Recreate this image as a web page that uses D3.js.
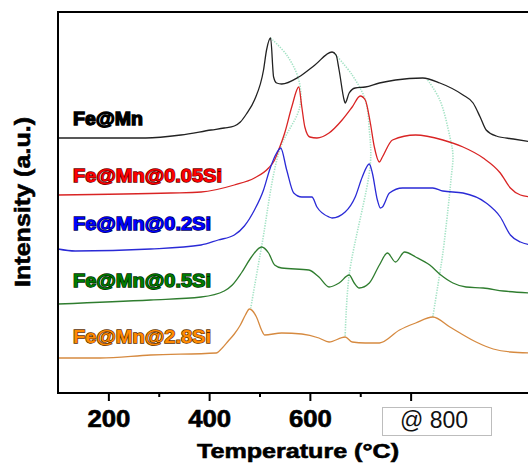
<!DOCTYPE html>
<html>
<head>
<meta charset="utf-8">
<script src="https://cdn.jsdelivr.net/npm/d3@7"></script>
<style>
    body{ margin:0; background:#fff; }
    svg{ display:block; }
</style>
</head>
<body>
<div id="chart"></div>
<script>
//Temperature (C) / intensity (a.u.) pairs
var feMn = [[100,255],[274,255],[344,258],[404,263],[430,265],[450,267],[462,271],[474,279],[490,293],[508,323],[514,343],[522,355],[528,316],[534,310],[544,309],[578,316],[610,328],[644,341],[652,338],[658,323],[668,293],[670,290],[678,300],[690,305],[710,306],[738,310],[770,313],[824,315],[858,310],[904,298],[924,290],[938,276],[950,263],[970,257],[1004,254],[1040,251]];
var feMn005 = [[100,198],[324,200],[384,201],[450,208],[490,215],[518,225],[530,233],[538,243],[550,260],[564,286],[578,306],[584,286],[590,266],[600,256],[614,255],[638,260],[664,273],[684,286],[700,297],[710,293],[720,270],[728,246],[738,231],[744,236],[764,253],[810,258],[864,253],[904,246],[944,235],[978,220],[998,205],[1018,198],[1040,196]];
var feMn02 = [[100,144],[134,142],[284,144],[384,148],[418,153],[450,158],[470,167],[490,183],[508,203],[520,223],[534,240],[542,245],[554,223],[568,200],[584,196],[604,196],[614,186],[638,176],[644,175],[670,181],[690,196],[704,216],[718,229],[724,220],[734,193],[740,185],[744,186],[758,200],[784,205],[844,205],[864,202],[904,200],[950,190],[978,176],[998,158],[1018,151],[1040,148]];
var feMn05 = [[100,89],[284,93],[384,96],[430,102],[446,108],[464,120],[484,136],[504,146],[518,140],[530,128],[544,125],[598,123],[618,116],[638,106],[658,110],[678,118],[688,110],[698,105],[718,110],[738,128],[754,140],[770,131],[788,141],[810,136],[838,128],[860,118],[884,110],[910,106],[944,105],[984,102],[1040,100]];
var feMn28 = [[100,35],[184,35],[284,38],[414,40],[426,45],[438,52],[450,59],[462,68],[472,78],[480,84],[494,76],[504,63],[510,58],[544,60],[584,59],[618,55],[638,51],[670,56],[684,51],[710,50],[738,50],[778,63],[810,70],[844,76],[878,66],[898,60],[930,51],[964,44],[998,41],[1040,40]];

//Dotted guides joining the peaks of the samples
var guideLow = [[522,355],[554,338],[578,313],[580,286],[540,243],[504,146],[482,83]];
var guideMid = [[648,340],[684,318],[710,293],[718,263],[720,229],[678,118],[670,56]];
var guideHigh = [[834,313],[858,293],[878,256],[884,238],[880,213],[874,183],[864,140],[858,120],[844,76]];

var seriesNames = ["Fe@Mn","Fe@Mn@0.05Si","Fe@Mn@0.2Si","Fe@Mn@0.5Si","Fe@Mn@2.8Si"];
var seriesData = [feMn, feMn005, feMn02, feMn05, feMn28];
var majorTicks = [200,400,600,800];
var minorTicks = [300,500,700];
var tickLabels = ["200","400","600"];
var boxLabel = "@ 800";

var lineColors = ["#222222","#d92424","#2a2ad6","#2f7d2f","#d68a40"];
var labelFill = ["#000000","#ff0000","#0000ff","#007a00","#ff8a00"];
var labelStroke = ["#000000","#6a0000","#000060","#002a00","#5e3000"];
var labelY = [125,182,230,287,343];
var labelLen = [70,149,138,138,138];

var width = 528, height = 465;
//plot edges in px ("top" is taken by window.top, hence the names)
var plotLeft = 58, plotTop = 12, plotBottom = 393;
var font = "'Liberation Sans', Arial, sans-serif";

var svg = d3.select("#chart")
    .append("svg")
    .attr("width", width)
    .attr("height", height);

var x = d3.scaleLinear().domain([100, 1033]).range([plotLeft, width]);
var y = d3.scaleLinear().domain([0, 381]).range([plotBottom, plotTop]);

var line = d3.line()
    .x(function(d){ return x(d[0]); })
    .y(function(d){ return y(d[1]); })
    .curve(d3.curveMonotoneX);

var guide = d3.line()
    .x(function(d){ return x(d[0]); })
    .y(function(d){ return y(d[1]); })
    .curve(d3.curveCatmullRom);

var plot = svg.append("g");

//Guides sit behind the curves
[guideLow, guideMid, guideHigh].forEach(function(g){
    plot.append("path")
        .attr("d", guide(g))
        .attr("fill","none")
        .attr("stroke","#a3e2c4")
        .attr("stroke-width",1.6)
        .attr("stroke-dasharray","1.3,1.3");
});

seriesData.forEach(function(s, i){
    plot.append("path")
        .attr("d", line(s))
        .attr("fill","none")
        .attr("stroke", lineColors[i])
        .attr("stroke-width",1.3);
});

seriesNames.forEach(function(name, i){
    svg.append("text")
        .attr("x",73)
        .attr("y",labelY[i])
        .attr("textLength",labelLen[i])
        .attr("lengthAdjust","spacingAndGlyphs")
        .style("font-family",font)
        .style("font-weight","bold")
        .style("font-size","18px")
        .style("fill",labelFill[i])
        .style("stroke",labelStroke[i])
        .style("stroke-width",1.3)
        .style("paint-order","stroke")
        .text(name);
});

//Frame: top and left borders
svg.append("path")
    .attr("d","M" + plotLeft + "," + plotBottom + "V" + plotTop + "H" + width)
    .attr("fill","none")
    .attr("stroke","#000")
    .attr("stroke-width",2);

var xAxis = svg.append("g")
    .attr("transform","translate(0," + plotBottom + ")")
    .call(d3.axisBottom(x).tickValues(majorTicks).tickSize(8).tickSizeOuter(0)
        .tickFormat(function(d, i){ return tickLabels[i] || ""; }));

xAxis.select(".domain").attr("stroke-width",2).attr("d","M" + (plotLeft - 1) + ",0H" + width);
xAxis.selectAll(".tick line").attr("stroke-width",2);
xAxis.selectAll(".tick text")
    .attr("y",34)
    .attr("dy",0)
    .attr("textLength",43)
    .attr("lengthAdjust","spacingAndGlyphs")
    .style("font-family",font)
    .style("font-weight","bold")
    .style("font-size","23px")
    .style("fill","#000")
    .style("stroke","#000")
    .style("stroke-width",0.6);

svg.append("g")
    .attr("transform","translate(0," + plotBottom + ")")
    .call(d3.axisBottom(x).tickValues(minorTicks).tickSize(4).tickFormat(""))
    .call(function(g){ g.select(".domain").remove(); })
    .selectAll(".tick line").attr("stroke-width",2);

//Boxed annotation in place of the 800 label
svg.append("rect")
    .attr("x",382.5)
    .attr("y",407.5)
    .attr("width",109)
    .attr("height",28)
    .attr("fill","#fff")
    .attr("stroke","#bdbdbd")
    .attr("stroke-width",1);

svg.append("text")
    .attr("x",434)
    .attr("y",428)
    .attr("text-anchor","middle")
    .style("font-family",font)
    .style("font-size","23px")
    .style("fill","#111")
    .text(boxLabel);

svg.append("text")
    .attr("x",298)
    .attr("y",458)
    .attr("text-anchor","middle")
    .attr("textLength",202)
    .attr("lengthAdjust","spacingAndGlyphs")
    .style("font-family",font)
    .style("font-weight","bold")
    .style("font-size","21px")
    .style("stroke","#000")
    .style("stroke-width",0.6)
    .text("Temperature (°C)");

svg.append("text")
    .attr("transform","translate(30,202) rotate(-90)")
    .attr("text-anchor","middle")
    .attr("textLength",170)
    .attr("lengthAdjust","spacingAndGlyphs")
    .style("font-family",font)
    .style("font-weight","bold")
    .style("font-size","22px")
    .style("stroke","#000")
    .style("stroke-width",0.6)
    .text("Intensity (a.u.)");
</script>
</body>
</html>
